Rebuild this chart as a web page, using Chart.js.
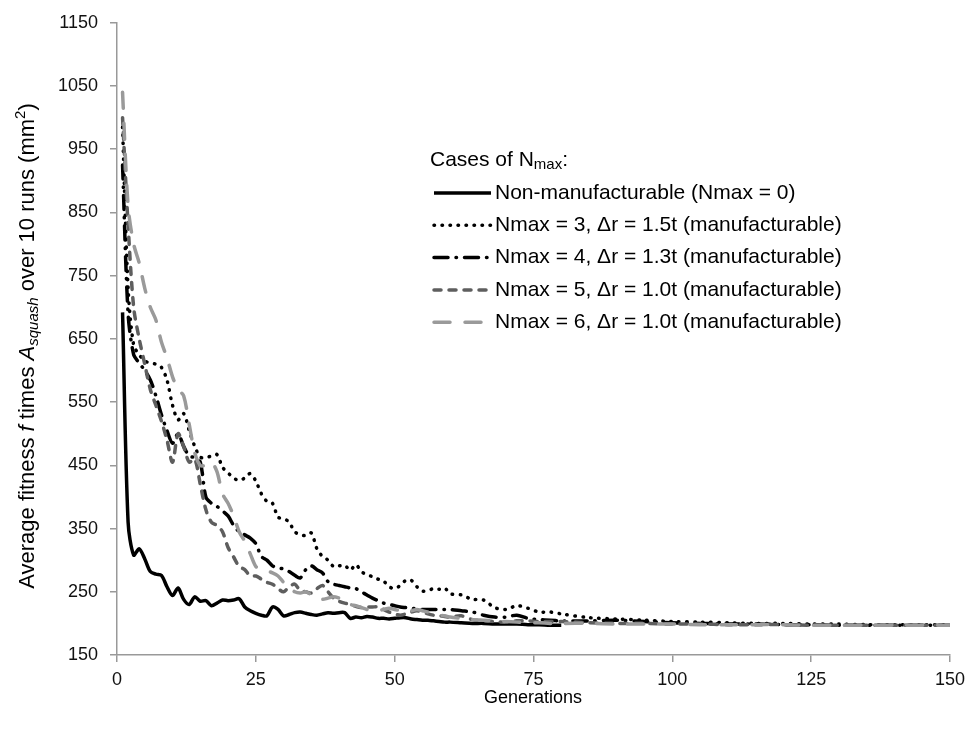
<!DOCTYPE html>
<html>
<head>
<meta charset="utf-8">
<script src="https://cdn.jsdelivr.net/npm/chart.js@4.4.1/dist/chart.umd.min.js"></script>
<style>
  body { margin: 0; background: #fff; }
  #chart { display: block; }
</style>
</head>
<body>
<canvas id="chart" width="972" height="731"></canvas>
<script>
// generations sampled (every gen early on, coarser in the flat tail)
const gens = [
  1,2,3,4,5,6,7,8,9,10, 11,12,13,14,15,16,17,18,19,20,
  21,22,23,24,25,26,27,28,29,30, 31,32,33,34,35,36,37,38,39,40,
  41,42,43,44,45,46,47,48,49,50, 51,52,53,54,55,56,57,58,59,60,
  62,64,66,68,70,72,74,76,78,80, 85,90,95,100,105,110,115,120,125,130,135,140,145,150
];

const nmax0 = [
  692,360,308,318,302,282,278,276,258,244, 256,238,230,242,235,236,228,232,237,236,
  237,239,226,220,216,213,212,226,222,212, 214,217,218,216,214,213,215,217,216,217,
  217,208,210,209,211,210,208,208,207,208, 209,209,207,206,205,205,204,203,202,202,
  201,200,200,199,199,199,198,198,197,197, null,null,null,null,null,null,null,null,null,null,null,null,null,null
];
const nmax3 = [
  985,730,640,625,615,612,610,605,585,545, 522,532,505,480,463,462,465,467,447,438,
  430,426,430,437,425,405,393,390,368,366, 360,345,340,339,343,318,306,300,290,291,
  292,284,293,282,277,274,270,267,258,255, 260,268,268,258,251,252,255,254,256,247,
  245,238,237,225,222,228,224,218,218,215, 209,207,205,203,202,201,200,200,199,199,198,198,198,198
];
const nmax4 = [
  925,690,625,612,600,585,560,530,505,485, 500,480,465,462,455,400,390,385,378,370,
  355,345,340,335,326,306,300,291,288,286, 282,276,272,285,291,285,280,266,262,260,
  258,256,255,250,245,240,236,232,230,228, 226,225,224,223,222,222,222,222,222,222,
  220,218,213,210,210,213,208,206,205,204, 204,205,203,201,200,199,199,198,198,197,197,197,197,197
];
const nmax5 = [
  1000,830,700,650,610,570,545,520,490,455, 500,480,455,460,420,380,360,355,345,320,
  305,290,285,275,275,270,265,262,255,250, 258,262,252,250,248,255,260,250,240,235,
  232,230,227,225,226,226,226,222,218,215, 213,215,218,220,218,215,213,212,211,210,
  212,206,204,203,202,204,204,203,203,203, 201,200,200,199,199,198,198,198,197,197,197,197,197,197
];
const nmax6 = [
  1040,860,800,770,730,700,680,645,620,590, 570,560,515,470,450,450,455,440,405,390,
  370,345,330,310,290,285,283,280,275,265, 258,250,248,250,245,240,238,240,242,240,
  236,230,228,225,222,220,220,222,224,222, 220,218,220,222,220,218,215,213,212,210,
  208,206,205,204,203,202,201,201,200,200, 200,199,199,199,198,198,198,198,197,197,197,197,197,197
];

const legendLabels = [
  'Non-manufacturable (Nmax = 0)',
  'Nmax = 3, \u0394r = 1.5t (manufacturable)',
  'Nmax = 4, \u0394r = 1.3t (manufacturable)',
  'Nmax = 5, \u0394r = 1.0t (manufacturable)',
  'Nmax = 6, \u0394r = 1.0t (manufacturable)'
];
const seriesValues = [nmax0, nmax3, nmax4, nmax5, nmax6];
const seriesColors = ['#000000', '#000000', '#000000', '#5e5e5e', '#9a9a9a'];
const seriesDash = [[], [0.5, 7.5], [14, 8, 0.5, 8], [7, 8], [16, 15]];
const seriesCap = ['butt', 'round', 'round', 'round', 'round'];

const FONT = '"Liberation Sans", Arial, sans-serif';

function toPoints(vals) {
  return gens.map((g, i) => ({ x: g, y: vals[i] }));
}

const datasets = seriesValues.map((vals, i) => ({
  label: legendLabels[i],
  data: toPoints(vals),
  borderColor: seriesColors[i],
  borderWidth: 3.5,
  borderDash: seriesDash[i],
  borderCapStyle: seriesCap[i],
  borderJoinStyle: 'round',
  pointRadius: 0,
  tension: 0.3,
  fill: false,
  spanGaps: false,
  order: 4 - i
}));

// draw a list of text runs with different fonts / offsets
function runsWidth(ctx, runs) {
  let w = 0;
  runs.forEach(r => { ctx.font = r.font; w += ctx.measureText(r.t).width; });
  return w;
}
function drawRuns(ctx, runs, x, y) {
  runs.forEach(r => {
    ctx.font = r.font;
    ctx.fillText(r.t, x, y + (r.dy || 0));
    x += ctx.measureText(r.t).width;
  });
}

const overlay = {
  id: 'overlay',
  afterDraw(chart) {
    const ctx = chart.ctx;
    ctx.save();
    ctx.fillStyle = '#000';
    ctx.textBaseline = 'middle';

    // y axis title
    const big = '22px ' + FONT, small = '15px ' + FONT;
    const ital = 'italic 22px ' + FONT, italSmall = 'italic 15px ' + FONT;
    const yRuns = [
      { t: 'Average fitness ', font: big },
      { t: 'f', font: ital },
      { t: ' times ', font: big },
      { t: 'A', font: ital },
      { t: 'squash', font: italSmall, dy: 6 },
      { t: ' over 10 runs (mm', font: big },
      { t: '2', font: small, dy: -7 },
      { t: ')', font: big }
    ];
    const yw = runsWidth(ctx, yRuns);
    ctx.translate(28, 346);
    ctx.rotate(-Math.PI / 2);
    drawRuns(ctx, yRuns, -yw / 2, 0);
    ctx.setTransform(1, 0, 0, 1, 0, 0);

    // x axis title
    ctx.font = '18px ' + FONT;
    ctx.textAlign = 'center';
    ctx.fillText('Generations', 533, 698);
    ctx.textAlign = 'left';

    // legend
    const lf = '21px ' + FONT;
    drawRuns(ctx, [
      { t: 'Cases of N', font: lf },
      { t: 'max', font: '15px ' + FONT, dy: 5 },
      { t: ':', font: lf }
    ], 430, 160);
    legendLabels.forEach((lab, i) => {
      const y = 193 + i * 32.3;
      ctx.beginPath();
      ctx.setLineDash(seriesDash[i]);
      ctx.lineCap = seriesCap[i];
      ctx.strokeStyle = seriesColors[i];
      ctx.lineWidth = 3.5;
      ctx.moveTo(434, y);
      ctx.lineTo(491, y);
      ctx.stroke();
      ctx.setLineDash([]);
      ctx.font = lf;
      ctx.fillText(lab, 495, y);
    });
    ctx.restore();
  }
};

new Chart(document.getElementById('chart'), {
  type: 'line',
  data: { datasets: datasets },
  options: {
    responsive: false,
    animation: false,
    layout: { padding: { top: 22, right: 22, bottom: 0, left: 0 } },
    plugins: { legend: { display: false }, tooltip: { enabled: false } },
    scales: {
      x: {
        type: 'linear',
        min: 0,
        max: 150,
        ticks: { stepSize: 25, color: '#111', font: { family: FONT, size: 18 }, padding: 7, maxRotation: 0,
                 callback: v => String(v) },
        grid: { drawOnChartArea: false, tickLength: 7, color: '#999', lineWidth: 1.5 },
        border: { color: '#999', width: 1.5 },
        afterFit(s) { s.height = 76; }
      },
      y: {
        type: 'linear',
        min: 150,
        max: 1150,
        ticks: { stepSize: 100, color: '#111', font: { family: FONT, size: 18 }, padding: 12,
                 callback: v => String(v) },
        grid: { drawOnChartArea: false, tickLength: 7, color: '#999', lineWidth: 1.5 },
        border: { color: '#999', width: 1.5 },
        afterFit(s) { s.width = 117; }
      }
    }
  },
  plugins: [overlay]
});
</script>
</body>
</html>
